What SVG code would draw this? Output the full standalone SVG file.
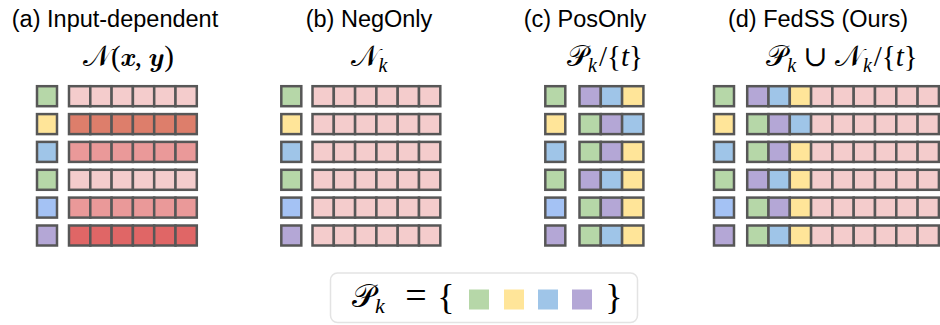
<svg xmlns="http://www.w3.org/2000/svg" width="940" height="325" viewBox="0 0 940 325">
<style>
.t{font-family:"Liberation Sans",Arial,sans-serif;font-size:23.5px;fill:#000;text-anchor:middle}
.m{font-family:"Liberation Serif","DejaVu Serif",serif;font-size:29px;fill:#000;text-anchor:middle}
.s{font-size:20px;font-style:italic}
rect.c{stroke:#575757;stroke-width:2.5}
.G{fill:#b6d7a8}.Y{fill:#ffe599}.B{fill:#9fc5e8}.L{fill:#a4c2f4}.P{fill:#b4a7d6}
.k{fill:#f4cccc}.r1{fill:#dd7e6b}.r2{fill:#ea9999}.r3{fill:#e06666}
</style>
<defs>
<g id="pk">
<rect class="c k" x="0" y="0" width="21.3" height="20"/>
</g>
</defs>

<g id="panel-a">
<text class="t" x="115" y="26.5">(a) Input-dependent</text>
<text class="m" x="128.5" y="66">𝒩(𝒙, 𝒚)</text>
<g transform="translate(0,86.2)"><rect class="c G" x="37" y="0" width="20" height="20"/>
<rect class="c k" x="69" width="21.3" height="20"/><rect class="c k" x="90.3" width="21.3" height="20"/><rect class="c k" x="111.6" width="21.3" height="20"/><rect class="c k" x="132.9" width="21.3" height="20"/><rect class="c k" x="154.2" width="21.3" height="20"/><rect class="c k" x="175.5" width="21.3" height="20"/></g>
<g transform="translate(0,114.1)"><rect class="c Y" x="37" y="0" width="20" height="20"/>
<rect class="c r1" x="69" width="21.3" height="20"/><rect class="c r1" x="90.3" width="21.3" height="20"/><rect class="c r1" x="111.6" width="21.3" height="20"/><rect class="c r1" x="132.9" width="21.3" height="20"/><rect class="c r1" x="154.2" width="21.3" height="20"/><rect class="c r1" x="175.5" width="21.3" height="20"/></g>
<g transform="translate(0,141.9)"><rect class="c B" x="37" y="0" width="20" height="20"/>
<rect class="c r2" x="69" width="21.3" height="20"/><rect class="c r2" x="90.3" width="21.3" height="20"/><rect class="c r2" x="111.6" width="21.3" height="20"/><rect class="c r2" x="132.9" width="21.3" height="20"/><rect class="c r2" x="154.2" width="21.3" height="20"/><rect class="c r2" x="175.5" width="21.3" height="20"/></g>
<g transform="translate(0,169.8)"><rect class="c G" x="37" y="0" width="20" height="20"/>
<rect class="c k" x="69" width="21.3" height="20"/><rect class="c k" x="90.3" width="21.3" height="20"/><rect class="c k" x="111.6" width="21.3" height="20"/><rect class="c k" x="132.9" width="21.3" height="20"/><rect class="c k" x="154.2" width="21.3" height="20"/><rect class="c k" x="175.5" width="21.3" height="20"/></g>
<g transform="translate(0,197.6)"><rect class="c L" x="37" y="0" width="20" height="20"/>
<rect class="c r2" x="69" width="21.3" height="20"/><rect class="c r2" x="90.3" width="21.3" height="20"/><rect class="c r2" x="111.6" width="21.3" height="20"/><rect class="c r2" x="132.9" width="21.3" height="20"/><rect class="c r2" x="154.2" width="21.3" height="20"/><rect class="c r2" x="175.5" width="21.3" height="20"/></g>
<g transform="translate(0,225.5)"><rect class="c P" x="37" y="0" width="20" height="20"/>
<rect class="c r3" x="69" width="21.3" height="20"/><rect class="c r3" x="90.3" width="21.3" height="20"/><rect class="c r3" x="111.6" width="21.3" height="20"/><rect class="c r3" x="132.9" width="21.3" height="20"/><rect class="c r3" x="154.2" width="21.3" height="20"/><rect class="c r3" x="175.5" width="21.3" height="20"/></g>
</g>

<g id="panel-b">
<text class="t" x="369" y="26.5">(b) NegOnly</text>
<text class="m" x="369" y="66">𝒩<tspan class="s" dy="6">k</tspan></text>
<g transform="translate(0,86.2)"><rect class="c G" x="281.3" width="20" height="20"/><use href="#pk" x="312.5"/><use href="#pk" x="333.8"/><use href="#pk" x="355.1"/><use href="#pk" x="376.4"/><use href="#pk" x="397.7"/><use href="#pk" x="419"/></g>
<g transform="translate(0,114.1)"><rect class="c Y" x="281.3" width="20" height="20"/><use href="#pk" x="312.5"/><use href="#pk" x="333.8"/><use href="#pk" x="355.1"/><use href="#pk" x="376.4"/><use href="#pk" x="397.7"/><use href="#pk" x="419"/></g>
<g transform="translate(0,141.9)"><rect class="c B" x="281.3" width="20" height="20"/><use href="#pk" x="312.5"/><use href="#pk" x="333.8"/><use href="#pk" x="355.1"/><use href="#pk" x="376.4"/><use href="#pk" x="397.7"/><use href="#pk" x="419"/></g>
<g transform="translate(0,169.8)"><rect class="c G" x="281.3" width="20" height="20"/><use href="#pk" x="312.5"/><use href="#pk" x="333.8"/><use href="#pk" x="355.1"/><use href="#pk" x="376.4"/><use href="#pk" x="397.7"/><use href="#pk" x="419"/></g>
<g transform="translate(0,197.6)"><rect class="c L" x="281.3" width="20" height="20"/><use href="#pk" x="312.5"/><use href="#pk" x="333.8"/><use href="#pk" x="355.1"/><use href="#pk" x="376.4"/><use href="#pk" x="397.7"/><use href="#pk" x="419"/></g>
<g transform="translate(0,225.5)"><rect class="c P" x="281.3" width="20" height="20"/><use href="#pk" x="312.5"/><use href="#pk" x="333.8"/><use href="#pk" x="355.1"/><use href="#pk" x="376.4"/><use href="#pk" x="397.7"/><use href="#pk" x="419"/></g>
</g>

<g id="panel-c">
<text class="t" x="585" y="26.5">(c) PosOnly</text>
<text class="m" x="605" y="66">𝒫<tspan class="s" dy="6">k</tspan><tspan dy="-6" dx="2">/{</tspan><tspan font-style="italic">t</tspan>}</text>
<g transform="translate(0,86.2)"><rect class="c G" x="545.3" width="20" height="20"/><rect class="c P" x="579.5" width="21.3" height="20"/><rect class="c B" x="600.8" width="21.3" height="20"/><rect class="c Y" x="622.1" width="21.3" height="20"/></g>
<g transform="translate(0,114.1)"><rect class="c Y" x="545.3" width="20" height="20"/><rect class="c G" x="579.5" width="21.3" height="20"/><rect class="c P" x="600.8" width="21.3" height="20"/><rect class="c B" x="622.1" width="21.3" height="20"/></g>
<g transform="translate(0,141.9)"><rect class="c B" x="545.3" width="20" height="20"/><rect class="c G" x="579.5" width="21.3" height="20"/><rect class="c P" x="600.8" width="21.3" height="20"/><rect class="c Y" x="622.1" width="21.3" height="20"/></g>
<g transform="translate(0,169.8)"><rect class="c G" x="545.3" width="20" height="20"/><rect class="c P" x="579.5" width="21.3" height="20"/><rect class="c B" x="600.8" width="21.3" height="20"/><rect class="c Y" x="622.1" width="21.3" height="20"/></g>
<g transform="translate(0,197.6)"><rect class="c L" x="545.3" width="20" height="20"/><rect class="c G" x="579.5" width="21.3" height="20"/><rect class="c P" x="600.8" width="21.3" height="20"/><rect class="c Y" x="622.1" width="21.3" height="20"/></g>
<g transform="translate(0,225.5)"><rect class="c P" x="545.3" width="20" height="20"/><rect class="c G" x="579.5" width="21.3" height="20"/><rect class="c B" x="600.8" width="21.3" height="20"/><rect class="c Y" x="622.1" width="21.3" height="20"/></g>
</g>

<g id="panel-d">
<text class="t" x="818" y="26.5">(d) FedSS (Ours)</text>
<text class="m" x="842" y="66">𝒫<tspan class="s" dy="6">k</tspan><tspan dy="-6"> ∪ 𝒩</tspan><tspan class="s" dy="6">k</tspan><tspan dy="-6" dx="2">/{</tspan><tspan font-style="italic">t</tspan>}</text>
<g transform="translate(0,86.2)"><rect class="c G" x="714" width="20" height="20"/><rect class="c P" x="747.2" width="21.3" height="20"/><rect class="c B" x="768.5" width="21.3" height="20"/><rect class="c Y" x="789.8" width="21.3" height="20"/><use href="#pk" x="811.1"/><use href="#pk" x="832.4"/><use href="#pk" x="853.7"/><use href="#pk" x="875"/><use href="#pk" x="896.3"/><use href="#pk" x="917.6"/></g>
<g transform="translate(0,114.1)"><rect class="c Y" x="714" width="20" height="20"/><rect class="c G" x="747.2" width="21.3" height="20"/><rect class="c P" x="768.5" width="21.3" height="20"/><rect class="c B" x="789.8" width="21.3" height="20"/><use href="#pk" x="811.1"/><use href="#pk" x="832.4"/><use href="#pk" x="853.7"/><use href="#pk" x="875"/><use href="#pk" x="896.3"/><use href="#pk" x="917.6"/></g>
<g transform="translate(0,141.9)"><rect class="c B" x="714" width="20" height="20"/><rect class="c G" x="747.2" width="21.3" height="20"/><rect class="c P" x="768.5" width="21.3" height="20"/><rect class="c Y" x="789.8" width="21.3" height="20"/><use href="#pk" x="811.1"/><use href="#pk" x="832.4"/><use href="#pk" x="853.7"/><use href="#pk" x="875"/><use href="#pk" x="896.3"/><use href="#pk" x="917.6"/></g>
<g transform="translate(0,169.8)"><rect class="c G" x="714" width="20" height="20"/><rect class="c P" x="747.2" width="21.3" height="20"/><rect class="c B" x="768.5" width="21.3" height="20"/><rect class="c Y" x="789.8" width="21.3" height="20"/><use href="#pk" x="811.1"/><use href="#pk" x="832.4"/><use href="#pk" x="853.7"/><use href="#pk" x="875"/><use href="#pk" x="896.3"/><use href="#pk" x="917.6"/></g>
<g transform="translate(0,197.6)"><rect class="c L" x="714" width="20" height="20"/><rect class="c G" x="747.2" width="21.3" height="20"/><rect class="c P" x="768.5" width="21.3" height="20"/><rect class="c Y" x="789.8" width="21.3" height="20"/><use href="#pk" x="811.1"/><use href="#pk" x="832.4"/><use href="#pk" x="853.7"/><use href="#pk" x="875"/><use href="#pk" x="896.3"/><use href="#pk" x="917.6"/></g>
<g transform="translate(0,225.5)"><rect class="c P" x="714" width="20" height="20"/><rect class="c G" x="747.2" width="21.3" height="20"/><rect class="c B" x="768.5" width="21.3" height="20"/><rect class="c Y" x="789.8" width="21.3" height="20"/><use href="#pk" x="811.1"/><use href="#pk" x="832.4"/><use href="#pk" x="853.7"/><use href="#pk" x="875"/><use href="#pk" x="896.3"/><use href="#pk" x="917.6"/></g>
</g>

<g id="legend">
<rect x="330.5" y="273" width="307" height="49.5" rx="7" fill="#fff" stroke="#e3e3e3" stroke-width="1.5"/>
<text class="m" x="352" y="307" style="text-anchor:start;font-size:32px">𝒫<tspan class="s" dy="6" style="font-size:22px">k</tspan></text>
<text class="m" x="416" y="308" style="font-size:38px">=</text>
<text class="m" x="446" y="309" style="font-size:36px">{</text>
<rect class="G" x="469" y="289.5" width="20" height="20"/>
<rect class="Y" x="504" y="289.5" width="20" height="20"/>
<rect class="B" x="538" y="289.5" width="20" height="20"/>
<rect class="P" x="572" y="289.5" width="20" height="20"/>
<text class="m" x="614" y="309" style="font-size:36px">}</text>
</g>
<g id="connectors"/>
</svg>
